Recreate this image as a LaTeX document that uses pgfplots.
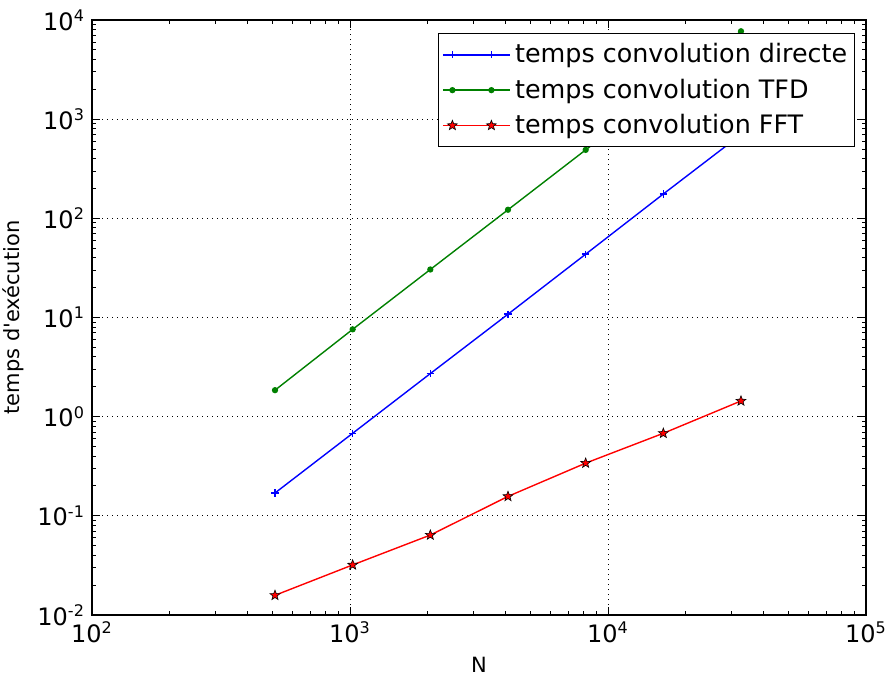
\documentclass[border=0pt]{standalone}
\usepackage{pgfplots}
\pgfplotsset{compat=1.18}
\usepackage{fontspec}
\setmainfont{DejaVu Sans}
% filled five-point star, like matplotlib's '*'
\pgfdeclareplotmark{fstar}{%
  \pgfpathmoveto{\pgfpointpolar{90}{\pgfplotmarksize}}%
  \pgfpathlineto{\pgfpointpolar{126}{0.42\pgfplotmarksize}}%
  \pgfpathlineto{\pgfpointpolar{162}{\pgfplotmarksize}}%
  \pgfpathlineto{\pgfpointpolar{198}{0.42\pgfplotmarksize}}%
  \pgfpathlineto{\pgfpointpolar{234}{\pgfplotmarksize}}%
  \pgfpathlineto{\pgfpointpolar{270}{0.42\pgfplotmarksize}}%
  \pgfpathlineto{\pgfpointpolar{306}{\pgfplotmarksize}}%
  \pgfpathlineto{\pgfpointpolar{342}{0.42\pgfplotmarksize}}%
  \pgfpathlineto{\pgfpointpolar{18}{\pgfplotmarksize}}%
  \pgfpathlineto{\pgfpointpolar{54}{0.42\pgfplotmarksize}}%
  \pgfpathclose
  \pgfusepathqfillstroke}
\begin{document}
\begin{tikzpicture}
\begin{axis}[
  xmode=log, ymode=log,
  width=387pt, height=297.5pt, scale only axis,
  xmin=100, xmax=100000, ymin=0.01, ymax=10000,
  xtick={100,1000,10000,100000},
  ytick={0.01,0.1,1,10,100,1000,10000},
  minor xtick={200,300,400,500,600,700,800,900,2000,3000,4000,5000,6000,7000,8000,9000,20000,30000,40000,50000,60000,70000,80000,90000},
  minor ytick={0.02,0.03,0.04,0.05,0.06,0.07,0.08,0.09,0.2,0.3,0.4,0.5,0.6,0.7,0.8,0.9,2,3,4,5,6,7,8,9,20,30,40,50,60,70,80,90,200,300,400,500,600,700,800,900,2000,3000,4000,5000,6000,7000,8000,9000},
  xticklabels={10\textsuperscript{2},10\textsuperscript{3},10\textsuperscript{4},10\textsuperscript{5}},
  yticklabels={10\textsuperscript{-2},10\textsuperscript{-1},10\textsuperscript{0},10\textsuperscript{1},10\textsuperscript{2},10\textsuperscript{3},10\textsuperscript{4}},
  tick label style={font=\fontsize{12}{14}\selectfont},
  major tick length=4pt, minor tick length=2pt,
  tick style={black, line width=0.5pt},
  axis line style={line width=0.6pt},
  grid=major, major grid style={black, line width=0.4pt, dash pattern=on 0.5pt off 2pt},
  xlabel={N}, ylabel={temps d\textquotesingle exécution},
  label style={font=\fontsize{10.5}{12}\selectfont},
  legend style={at={(0.986,0.978)}, anchor=north east, draw=black, line width=0.6pt,
    font=\fontsize{12.7}{14}\selectfont, row sep=2.5pt, inner xsep=1.7pt, inner ysep=3pt},
  legend cell align=left,
  legend image code/.code={\path (-4.8pt,0pt) -- (29pt,0pt);
    \draw[#1] plot coordinates {(0pt,0pt) (19.5pt,0pt)};},
]
\addplot[blue, line width=0.7pt, mark=+, mark size=1.8pt] coordinates {
(512,0.17) (1024,0.68) (2048,2.72) (4096,10.8) (8192,43.5) (16384,176) (32768,700)
};
\addlegendentry{temps convolution directe}
\addplot[green!50!black, line width=0.7pt, mark=*, mark size=1.2pt] coordinates {
(512,1.85) (1024,7.6) (2048,30.5) (4096,122) (8192,490) (16384,1960) (32768,7700)
};
\addlegendentry{temps convolution TFD}
\addplot[red, line width=0.7pt, mark=fstar, mark size=2.6pt, mark options={draw=black, fill=red, line width=0.3pt}] coordinates {
(512,0.0158) (1024,0.032) (2048,0.064) (4096,0.157) (8192,0.34) (16384,0.68) (32768,1.44)
};
\addlegendentry{temps convolution FFT}
\end{axis}
\pgfresetboundingbox
\path ([shift={(-46pt,-31pt)}]current axis.south west) rectangle ([shift={(9.5pt,10pt)}]current axis.north east);
\end{tikzpicture}
\end{document}
